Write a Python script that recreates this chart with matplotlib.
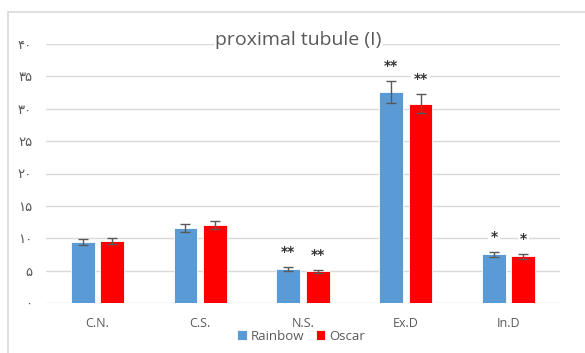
import numpy as np
import matplotlib.pyplot as plt
from matplotlib.patches import Rectangle

groups = ["C.N.", "C.S.", "N.S.", "Ex.D", "In.D"]
rainbow = [9.4, 11.6, 5.2, 32.6, 7.5]
rainbow_err = [0.5, 0.6, 0.3, 1.7, 0.4]
oscar = [9.6, 12.0, 4.9, 30.8, 7.2]
oscar_err = [0.5, 0.6, 0.2, 1.5, 0.4]
rainbow_sig = ["", "", "**", "**", "*"]
oscar_sig = ["", "", "**", "**", "*"]
yticks = [0, 5, 10, 15, 20, 25, 30, 35, 40]
ytick_labels = ["۰", "۵", "۱۰", "۱۵", "۲۰", "۲۵", "۳۰", "۳۵", "۴۰"]

blue = "#5B9BD5"
red = "#FF0000"
grey = "#595959"

fig = plt.figure(figsize=(5.85, 3.53), dpi=100)
fig.patches.append(Rectangle((8 / 585, -0.1), 1.1, 1 - 12 / 353 + 0.1,
                             transform=fig.transFigure, fill=False,
                             edgecolor="#D9D9D9", linewidth=1.2))
ax = fig.add_axes([46 / 585, 50 / 353, 514 / 585, 259 / 353])

x = np.arange(len(groups))
w = 0.23
off = 0.143
ax.bar(x - off, rainbow, w, color=blue, edgecolor="white", linewidth=0.6,
       yerr=rainbow_err, error_kw=dict(ecolor=grey, elinewidth=1, capsize=3.5, capthick=1),
       label="Rainbow", zorder=3)
ax.bar(x + off, oscar, w, color=red, edgecolor="white", linewidth=0.6,
       yerr=oscar_err, error_kw=dict(ecolor=grey, elinewidth=1, capsize=3.5, capthick=1),
       label="Oscar", zorder=3)

# significance marks above the error bars
for xs, vals, errs, sig in [(x - off, rainbow, rainbow_err, rainbow_sig),
                            (x + off, oscar, oscar_err, oscar_sig)]:
    for xi, v, e, s in zip(xs, vals, errs, sig):
        if s:
            ax.text(xi, v + e + 2.3, s, ha="center", va="center", fontsize=10,
                    fontweight="bold", color="#333333", zorder=4,
                    bbox=dict(facecolor="white", edgecolor="none", pad=1.5))

ax.set_xlim(-0.5, len(groups) - 0.5)
ax.set_ylim(0, 40)
ax.set_yticks(yticks)
ax.set_yticklabels(ytick_labels, family="DejaVu Sans")
ax.set_xticks(x)
ax.set_xticklabels(groups, family="Open Sans")
ax.tick_params(axis="both", length=0, colors=grey, labelsize=9)
ax.tick_params(axis="y", labelsize=9.5)
ax.tick_params(axis="x", pad=10)
ax.tick_params(axis="y", pad=10)
ax.grid(axis="y", color="#D9D9D9", linewidth=1, zorder=0)
ax.set_axisbelow(True)
for sp in ax.spines.values():
    sp.set_visible(False)

fig.text(298.5 / 585, 1 - 40 / 353, "proximal tubule (I)", ha="center", va="center",
         fontsize=14, family="Open Sans", color=grey,
         bbox=dict(facecolor="white", edgecolor="none", pad=1))

leg = fig.legend(loc="center", bbox_to_anchor=(0.515, 17 / 353), ncol=2,
                 frameon=False, handlelength=0.7, handleheight=0.7,
                 handletextpad=0.3, columnspacing=0.9,
                 prop=dict(family="Open Sans", size=9.5))
for t in leg.get_texts():
    t.set_color(grey)

fig.savefig("out.png", dpi=100)
